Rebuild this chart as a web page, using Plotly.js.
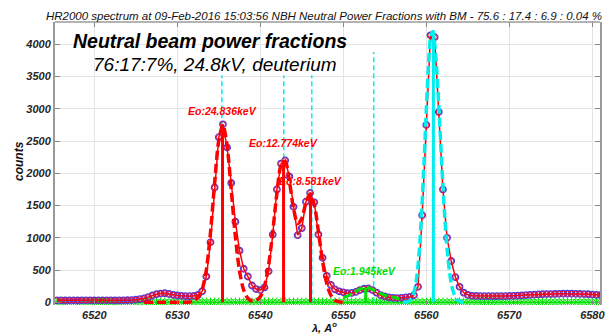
<!DOCTYPE html>
<html>
<head>
<meta charset="utf-8">
<script src="https://cdn.plot.ly/plotly-3.0.1.min.js"></script>
<style>html,body{margin:0;padding:0;background:#fff;}#chart{width:609px;height:335px;}</style>
</head>
<body>
<div id="chart"></div>
<script>
// ---------- data ----------
const lambda = [
6515.5,6516.0,6516.5,6517.0,6517.5,6518.0,6518.5,6519.0,6519.5,6520.0,
6520.5,6521.0,6521.5,6522.0,6522.5,6523.0,6523.5,6524.0,6524.5,6525.0,
6525.5,6526.0,6526.5,6527.0,6527.5,6528.0,6528.5,6529.0,6529.5,6530.0,
6530.5,6531.0,6531.5,6532.0,6532.5,6533.0,6533.5,6534.0,6534.5,6535.0,
6535.5,6536.0,6536.5,6537.0,6537.5,6538.0,6538.5,6539.0,6539.5,6540.0,
6540.5,6541.0,6541.5,6542.0,6542.5,6543.0,6543.5,6544.0,6544.5,6545.0,
6545.5,6546.0,6546.5,6547.0,6547.5,6548.0,6548.5,6549.0,6549.5,6550.0,
6550.5,6551.0,6551.5,6552.0,6552.5,6553.0,6553.5,6554.0,6554.5,6555.0,
6555.5,6556.0,6556.5,6557.0,6557.5,6558.0,6558.5,6559.0,6559.5,6560.0,
6560.5,6561.0,6561.5,6562.0,6562.5,6563.0,6563.5,6564.0,6564.5,6565.0,
6565.5,6566.0,6566.5,6567.0,6567.5,6568.0,6568.5,6569.0,6569.5,6570.0,
6570.5,6571.0,6571.5,6572.0,6572.5,6573.0,6573.5,6574.0,6574.5,6575.0,
6575.5,6576.0,6576.5,6577.0,6577.5,6578.0,6578.5,6579.0,6579.5,6580.0,
6580.5,6581.0];
const counts = [
30,30,28,30,30,28,30,30,30,28,
30,30,30,30,28,30,30,32,35,40,
48,60,80,105,125,135,140,130,115,105,
100,95,95,100,115,170,400,930,1780,2560,
2760,2400,1850,1250,800,520,400,260,205,190,
230,480,1050,1750,2150,2200,1950,1480,1040,1150,
1560,1695,1550,1050,690,410,270,200,170,155,
140,145,160,190,210,215,190,150,110,90,
75,68,66,70,76,82,110,240,1350,2750,
4140,4110,2950,1750,1000,640,390,240,150,115,
100,98,96,95,95,95,95,96,97,98,
100,102,105,110,115,118,122,125,127,128,
130,132,133,133,133,132,130,128,125,120,
115,112];
const baseline = [
0,0,0,0,0,0,0,0,0,0,0,0,0,0,0,0,0,0,0,0,
0,0,0,0,0,0,0,0,0,0,0,0,0,0,0,0,0,0,0,0,
0,0,0,0,0,0,0,0,0,0,0,0,0,0,0,0,0,0,0,0,
0,0,0,0,0,0,0,0,0,0,0,0,0,0,0,0,0,0,0,0,
0,0,0,0,0,0,0,0,0,0,0,0,0,0,0,0,0,0,0,0,
0,0,0,0,0,0,0,0,0,0,0,0,0,0,0,0,0,0,0,0,
0,0,0,0,0,0,0,0,0,0,0,0];

// Doppler-shifted beam components fit (red dashed)
const fitBeamX = [
6526.0,6526.5,6527.0,6527.5,6528.0,6528.5,6529.0,6529.5,6530.0,6530.5,
6531.0,6531.5,6532.0,6532.5,6533.0,6533.5,6534.0,6534.5,6535.0,6535.5,
6536.0,6536.5,6537.0,6537.5,6538.0,6538.5,6539.0,6539.5,6540.0,6540.5,
6541.0,6541.5,6542.0,6542.5,6543.0,6543.5,6544.0,6544.5,6545.0,6545.5,
6546.0,6546.5,6547.0,6547.5,6548.0,6548.5,6549.0,6549.5,6550.0];
const fitBeamY = [
0,0,0,0,0,0,0,0,0,0,
1,4,20,75,200,500,1080,1850,2510,2747,
2427,1743,1019,484,190,62,20,27,86,247,
576,1095,1689,2120,2188,1883,1458,1222,1299,1548,
1681,1513,1098,636,294,109,32,7,1];

// H-alpha (cold) fit (cyan dashed)
const fitHaX = [
6557.25,6557.5,6557.75,6558.0,6558.25,6558.5,6558.75,6559.0,6559.25,6559.5,
6559.75,6560.0,6560.25,6560.5,6560.75,6561.0,6561.25,6561.5,6561.75,6562.0,
6562.25,6562.5,6562.75,6563.0,6563.25,6563.5,6563.75,6564.0,6564.25,6564.5];
const fitHaY = [
1,3,10,27,66,147,302,568,980,1550,
2248,2992,3651,4085,4195,4015,3611,3051,2420,1804,
1264,832,514,298,163,83,40,18,8,3];

// low-energy component fit (green dashed)
const fitLowX = [6550.0,6550.5,6551.0,6551.5,6552.0,6552.5,6553.0,6553.5,6554.0,6554.5,6555.0,6555.5,6556.0,6556.5,6557.0];
const fitLowY = [70,95,130,170,205,225,225,200,165,135,110,95,80,62,45];

// component positions / heights
const beamPeakX = [6535.45, 6542.8, 6546.05];
const beamPeakY = [2760, 2200, 1700];
const lowPeakX = [6552.7];
const lowPeakY = [228];
const haPeakX = [6560.85];
const haPeakY = [4217];
const expectedX = [6535.37, 6542.83, 6546.2, 6553.66];
const expectedY = [3520, 3520, 3520, 3880];

const beamLabels = ['Eo:24.836keV', 'Eo:12.774keV', 'Eo:8.581keV'];
const lowLabel = 'Eo:1.945keV';
const xTicks = [6520, 6530, 6540, 6550, 6560, 6570, 6580];
const yTicks = [0, 500, 1000, 1500, 2000, 2500, 3000, 3500, 4000];

// ---------- helpers ----------
function stems(xs, ys) {
  const X = [], Y = [];
  xs.forEach((x, i) => { X.push(x, x, null); Y.push(0, ys[i], null); });
  return {x: X, y: Y};
}
const FONT = 'Arial, "Liberation Sans", sans-serif';
const RED = '#ff0000', CYAN = '#00eeee', GREEN = '#00e000';

const sBeam = stems(beamPeakX, beamPeakY);
const sLow = stems(lowPeakX, lowPeakY);
const sHa = stems(haPeakX, haPeakY);
const sExp = stems(expectedX, expectedY);

const traces = [
  {x: lambda, y: baseline, mode: 'lines+markers', line: {color: GREEN, width: 1},
   marker: {symbol: 'asterisk-open', size: 8, color: GREEN, line: {color: GREEN, width: 1}}},
  {x: sExp.x, y: sExp.y, mode: 'lines', line: {color: CYAN, width: 1.5, dash: '5px,3px'}},
  {x: lambda, y: counts, mode: 'markers',
   marker: {symbol: 'circle-open', size: 6.5, color: '#4a3adf', line: {color: '#4a3adf', width: 1.3}}},
  {x: lambda, y: counts, mode: 'lines+markers', line: {color: RED, width: 1.5},
   marker: {symbol: 'circle-open', size: 5, color: '#e01040', line: {color: '#e01040', width: 1}}},
  {x: fitBeamX, y: fitBeamY, mode: 'lines', line: {color: RED, width: 3.5, dash: '9px,4px', shape: 'spline', smoothing: 0.8}},
  {x: fitLowX, y: fitLowY, mode: 'lines', line: {color: GREEN, width: 3, dash: '9px,4px', shape: 'spline'}},
  {x: fitHaX, y: fitHaY, mode: 'lines', line: {color: CYAN, width: 3.5, dash: '9px,4px', shape: 'spline', smoothing: 0.8}},
  {x: sBeam.x, y: sBeam.y, mode: 'lines', line: {color: RED, width: 3}},
  {x: sLow.x, y: sLow.y, mode: 'lines', line: {color: GREEN, width: 3}},
  {x: sHa.x, y: sHa.y, mode: 'lines', line: {color: CYAN, width: 3}}
];
traces.forEach(t => { t.type = 'scatter'; t.hoverinfo = 'skip'; });

const labelY = [2960, 2477, 1888];
const annotations = beamLabels.map((t, i) => ({
  x: beamPeakX[i] - 0.05, y: labelY[i], xref: 'x', yref: 'y', text: t, showarrow: false,
  xanchor: 'center', yanchor: 'middle',
  font: {family: FONT, size: 10.5, color: RED, style: 'italic', weight: 'bold'}
}));
annotations.push({
  x: lowPeakX[0] - 0.1, y: 485, xref: 'x', yref: 'y', text: lowLabel, showarrow: false,
  xanchor: 'center', yanchor: 'middle',
  font: {family: FONT, size: 10.5, color: GREEN, style: 'italic', weight: 'bold'}
});
annotations.push(
  {x: 0.284, y: 0.933, xref: 'paper', yref: 'paper', text: 'Neutral beam power fractions', showarrow: false,
   xanchor: 'center', yanchor: 'middle',
   font: {family: FONT, size: 19.5, color: '#000', style: 'italic', weight: 'bold'}},
  {x: 0.294, y: 0.85, xref: 'paper', yref: 'paper', text: '76:17:7%, 24.8kV, deuterium', showarrow: false,
   xanchor: 'center', yanchor: 'middle',
   font: {family: FONT, size: 19, color: '#000', style: 'italic'}},
  {x: 0.494, y: -0.079, xref: 'paper', yref: 'paper', text: 'λ, A<sup>o</sup>', showarrow: false,
   xanchor: 'center', yanchor: 'middle',
   font: {family: FONT, size: 11, color: '#111', style: 'italic', weight: 'bold'}},
  {x: -0.066, y: 0.509, xref: 'paper', yref: 'paper', text: 'counts', showarrow: false, textangle: -90,
   xanchor: 'center', yanchor: 'middle',
   font: {family: FONT, size: 12, color: '#111', style: 'italic', weight: 'bold'}}
);

const tickFont = {family: FONT, size: 11, color: '#262626', style: 'italic', weight: 'bold'};
const layout = {
  width: 609, height: 335,
  margin: {l: 55, r: 8.5, t: 22, b: 30},
  paper_bgcolor: '#fff', plot_bgcolor: '#fff',
  showlegend: false,
  title: {
    text: 'HR2000 spectrum at 09-Feb-2016 15:03:56 NBH Neutral Power Fractions with BM - 75.6 : 17.4 : 6.9 : 0.04 %',
    x: 0.532, xanchor: 'center', xref: 'container',
    y: 0.953, yanchor: 'middle', yref: 'container',
    font: {family: FONT, size: 11.5, color: '#111', style: 'italic'}
  },
  xaxis: {
    range: [6515.27, 6580.92], tickvals: xTicks, ticktext: xTicks.map(String),
    ticks: 'inside', ticklen: 5, tickcolor: '#888', tickwidth: 1,
    showgrid: true, gridcolor: '#e4e4e4', gridwidth: 1, zeroline: false,
    showline: true, linecolor: 'rgba(0,0,0,0)', mirror: 'ticks',
    tickfont: tickFont
  },
  yaxis: {
    range: [-42, 4346], tickvals: yTicks, ticktext: yTicks.map(String),
    ticks: 'inside', ticklen: 5, tickcolor: '#888', tickwidth: 1,
    showgrid: true, gridcolor: '#e4e4e4', gridwidth: 1, zeroline: false,
    showline: true, linecolor: '#9a9a9a', linewidth: 2, mirror: 'ticks',
    tickfont: tickFont
  },
  shapes: [{type: 'line', xref: 'paper', yref: 'paper', x0: 0, x1: 1, y0: 1, y1: 1,
            line: {color: '#9a9a9a', width: 1.5}}],
  annotations: annotations
};

Plotly.newPlot('chart', traces, layout, {staticPlot: true, displayModeBar: false});
</script>
</body>
</html>
